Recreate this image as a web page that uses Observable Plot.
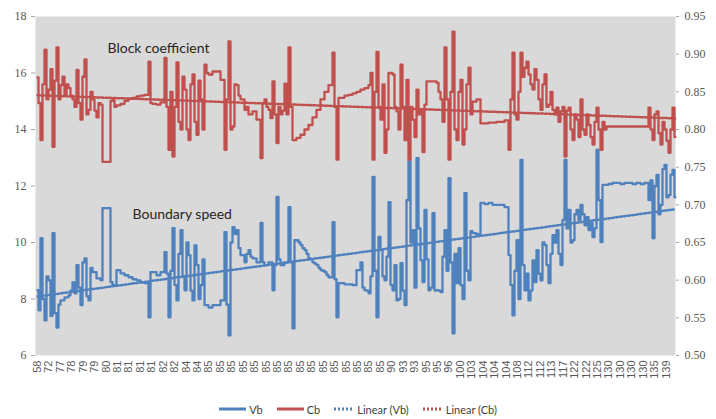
<!DOCTYPE html>
<html>
<head>
<meta charset="utf-8">
<script src="https://cdn.jsdelivr.net/npm/d3@7"></script>
<script src="https://cdn.jsdelivr.net/npm/@observablehq/plot@0.6"></script>
<style>
  html, body { margin: 0; padding: 0; background: #fff; }
  #wrap { width: 716px; }
  #legend { display: flex; justify-content: center; align-items: center; gap: 14px;
            font-family: Lato, "Open Sans", sans-serif; font-size: 11px; color: #404040;
            margin-top: 9px; height: 16px; }
  #legend .item { display: flex; align-items: center; gap: 3px; }
</style>
</head>
<body>
<div id="wrap">
  <div id="chart"></div>
  <div id="legend"></div>
</div>
<script>
// Category tick labels (every 20th category along the x axis)
const xLabels = ["58","72","77","78","79","79","80","81","81","81","81","82","82","84","84","85","85","85","85","85",
  "85","85","85","85","85","85","85","85","85","85","85",
  "90","93","93","95","95","96","100","103",
  "104","104","104","108","112","112","113","117","122","122","125","130","130","130","130","135","139"];

// Boundary speed Vb (left axis), read every 3.5 categories
const vb = [
  8.31,7.6, 10.15,8.0, 7.24,8.8, 8.66,7.4, 10.33,7.5, 6.99,7.8, 7.95,7.95, 8.06,8.06, 8.13,8.3, 8.59,8.2, 9.20,8.4, 7.78,9.3, 9.44,8.1, 7.95,9.1, 8.95,8.95, 8.73,8.73, 8.66,11.22, 11.22,11.22, 11.22,8.6, 8.49,8.49,
  9.02,9.02, 8.91,8.91, 8.84,8.84, 8.77,8.77, 8.70,8.70, 8.66,8.66, 8.59,8.59, 8.56,8.56, 7.35,8.95, 8.95,8.95, 8.84,8.84, 8.95,8.95, 9.66,8.9, 7.35,9.0, 10.51,8.5, 7.95,9.6, 10.44,8.8, 8.31,10.0, 9.55,8.3, 7.95,9.9,
  9.20,8.0, 8.49,9.4, 7.78,7.78, 7.70,7.70, 7.78,7.78, 7.78,7.78, 7.95,7.95, 10.37,7.8, 6.71,10.0, 10.54,10.3, 10.44,9.8, 9.55,9.55, 9.30,9.6, 9.73,9.5, 9.44,9.44, 9.30,9.30, 10.69,9.3, 9.20,9.20, 9.30,9.30, 8.31,9.2,
  11.61,9.4, 9.20,9.20, 9.30,9.30, 11.25,9.3, 6.96,10.08, 10.08,10.0, 9.91,9.8, 9.73,9.6, 9.44,9.4, 9.30,9.25, 9.20,9.1, 9.02,9.0, 8.95,8.85, 8.77,8.77, 10.72,8.7, 7.35,8.56, 8.56,8.56, 8.52,8.52, 8.52,8.52, 8.49,8.49,
  9.02,9.02, 9.30,8.4, 8.31,8.3, 8.20,8.8, 12.32,9.0, 7.35,10.2, 9.73,8.8, 8.66,9.5, 11.43,8.5, 8.31,9.2, 7.95,8.0, 9.27,8.3, 7.78,11.5, 12.92,10.0, 10.44,8.4, 12.99,10.5, 9.37,8.6, 11.15,9.4, 8.31,8.4, 11.04,8.3,
  8.31,8.3, 8.24,9.5, 10.44,9.0, 12.28,9.3, 6.78,9.6, 8.56,9.8, 8.49,8.0, 11.75,9.0, 8.66,10.4, 10.33,10.33, 10.26,10.3, 11.40,11.40, 11.36,11.36, 11.40,11.40, 11.33,11.33, 11.33,11.33, 11.33,11.33, 11.25,11.25, 9.55,8.5, 7.42,9.0,
  10.08,8.0, 12.92,9.2, 8.31,8.9, 7.95,8.3, 9.37,8.6, 9.73,8.9, 8.66,10.0, 9.91,9.2, 8.56,9.6, 10.26,10.0, 10.44,9.6, 9.20,10.8, 12.92,10.5, 11.15,10.0, 10.08,11.0, 11.15,10.8, 11.33,11.0, 10.61,10.9, 10.44,10.7, 10.19,10.5,
  13.28,11.5, 10.01,12.04, 12.04,12.04, 12.07,12.07, 12.11,12.11, 12.11,12.11, 12.07,12.07, 12.11,12.11, 12.11,12.11, 12.07,12.07, 12.11,12.11, 12.07,12.07, 12.11,12.11, 11.50,12.2, 10.15,12.0, 12.39,11.0, 11.33,12.6, 12.75,11.6, 11.68,12.4, 12.57,11.6
];

// Block coefficient Cb (right axis), read every 3.5 categories
const cb = [
  0.869,0.835, 0.786,0.860, 0.906,0.840, 0.853,0.880, 0.777,0.865, 0.909,0.840, 0.859,0.870, 0.846,0.860, 0.855,0.845, 0.840,0.830, 0.879,0.835, 0.813,0.870, 0.893,0.820, 0.826,0.850, 0.840,0.825, 0.816,0.835, 0.833,0.757, 0.757,0.757, 0.757,0.838, 0.840,0.830,
  0.832,0.832, 0.834,0.834, 0.838,0.838, 0.841,0.841, 0.842,0.842, 0.844,0.844, 0.845,0.845, 0.846,0.846, 0.890,0.835, 0.834,0.834, 0.833,0.833, 0.836,0.836, 0.895,0.830, 0.773,0.850, 0.764,0.830, 0.889,0.810, 0.800,0.870, 0.853,0.800, 0.786,0.860, 0.873,0.810,
  0.793,0.865, 0.840,0.800, 0.886,0.875, 0.873,0.873, 0.877,0.877, 0.877,0.877, 0.866,0.866, 0.773,0.840, 0.917,0.800, 0.804,0.860, 0.859,0.845, 0.840,0.840, 0.826,0.830, 0.820,0.820, 0.824,0.824, 0.813,0.813, 0.762,0.835, 0.840,0.830, 0.826,0.815, 0.864,0.820,
  0.782,0.830, 0.820,0.825, 0.861,0.820, 0.909,0.830, 0.786,0.786, 0.789,0.789, 0.793,0.793, 0.800,0.800, 0.806,0.806, 0.816,0.816, 0.826,0.826, 0.840,0.840, 0.850,0.850, 0.859,0.859, 0.902,0.830, 0.760,0.842, 0.842,0.842, 0.845,0.845, 0.846,0.846, 0.848,0.848,
  0.850,0.850, 0.853,0.853, 0.855,0.855, 0.859,0.875, 0.760,0.850, 0.903,0.830, 0.813,0.860, 0.769,0.800, 0.875,0.875, 0.873,0.830, 0.824,0.800, 0.886,0.830, 0.786,0.866, 0.760,0.830, 0.813,0.790, 0.853,0.820, 0.826,0.770, 0.833,0.864, 0.864,0.864, 0.864,0.864,
  0.862,0.850, 0.840,0.810, 0.909,0.840, 0.760,0.850, 0.930,0.800, 0.786,0.850, 0.866,0.780, 0.800,0.860, 0.882,0.820, 0.837,0.837, 0.840,0.840, 0.808,0.808, 0.808,0.808, 0.809,0.809, 0.809,0.809, 0.810,0.810, 0.810,0.810, 0.812,0.812, 0.773,0.840, 0.902,0.820,
  0.813,0.850, 0.902,0.870, 0.882,0.890, 0.873,0.860, 0.853,0.880, 0.866,0.840, 0.826,0.860, 0.873,0.830, 0.833,0.850, 0.826,0.820, 0.829,0.810, 0.824,0.830, 0.764,0.825, 0.829,0.800, 0.786,0.820, 0.813,0.790, 0.840,0.800, 0.793,0.820, 0.806,0.790, 0.780,0.810,
  0.829,0.800, 0.773,0.810, 0.800,0.804, 0.804,0.804, 0.804,0.804, 0.804,0.804, 0.804,0.804, 0.804,0.804, 0.804,0.804, 0.804,0.804, 0.804,0.804, 0.804,0.804, 0.804,0.804, 0.829,0.800, 0.786,0.820, 0.824,0.795, 0.780,0.810, 0.800,0.785, 0.769,0.800, 0.829,0.790
];

const leftTicks = [6, 8, 10, 12, 14, 16, 18];
const rightTicks = [0.50, 0.55, 0.60, 0.65, 0.70, 0.75, 0.80, 0.85, 0.90, 0.95];

const SAMPLE_STEP = 3.5; // categories between readings
const LABEL_STEP = 20;   // categories between labels
const BLUE = "#4f81bd", RED = "#c0504d";

// map Cb (0.50–0.95) onto the left scale (6–18)
const cbToLeft = c => 6 + (c - 0.5) / 0.45 * 12;
const leftToCb = v => 0.5 + (v - 6) / 12 * 0.45;

const rows = vb.map((v, i) => ({idx: i * SAMPLE_STEP, vb: v, cb: cbToLeft(cb[i])}));
const tickIdx = xLabels.map((_, k) => k * LABEL_STEP);

const chart = Plot.plot({
  width: 716,
  height: 392,
  marginTop: 16,
  marginBottom: 37,
  marginLeft: 35,
  marginRight: 41,
  x: {domain: [-3.5, 1116.5]},
  y: {domain: [6, 18]},
  marks: [
    Plot.frame({fill: "#d9d9d9", stroke: null}),
    Plot.axisY(leftTicks, {anchor: "left", tickSize: 4, tickPadding: 5, stroke: "#a6a6a6",
      fill: "#595959", fontFamily: "Liberation Serif", fontSize: 12, label: null}),
    Plot.axisY(rightTicks.map(cbToLeft), {anchor: "right", tickSize: 3, tickPadding: 6, stroke: "#a6a6a6",
      fill: "#595959", fontFamily: "Liberation Serif", fontSize: 12, label: null,
      tickFormat: v => leftToCb(v).toFixed(2)}),
    Plot.axisX(tickIdx, {anchor: "bottom", tickSize: 0, tickPadding: 5, tickRotate: -90,
      fill: "#595959", fontFamily: "Liberation Sans", fontSize: 11, label: null,
      tickFormat: i => xLabels[Math.round(i / LABEL_STEP)]}),
    Plot.line(rows, {x: "idx", y: "vb", stroke: BLUE, strokeWidth: 2.3, curve: "step", strokeLinejoin: "round"}),
    Plot.line(rows, {x: "idx", y: "cb", stroke: RED, strokeWidth: 2.3, curve: "step", strokeLinejoin: "round"}),
    Plot.linearRegressionY(rows, {x: "idx", y: "vb", stroke: BLUE, strokeWidth: 2.5, ci: 0, strokeDasharray: "2,2"}),
    Plot.linearRegressionY(rows, {x: "idx", y: "cb", stroke: RED, strokeWidth: 2.5, ci: 0, strokeDasharray: "2,2"}),
    Plot.text(["Block coefficient"], {frameAnchor: "top-left", dx: 72, dy: 27, textAnchor: "start",
      fontFamily: "Lato", fontSize: 14, fill: "#262626"}),
    Plot.text(["Boundary speed"], {frameAnchor: "top-left", dx: 97, dy: 193, textAnchor: "start",
      fontFamily: "Lato", fontSize: 14, fill: "#262626"})
  ]
});
d3.select(chart).selectAll('g[aria-label="y-axis tick label"]')
  .attr("font-family", "Liberation Serif")
  .selectAll("text").style("font-family", "'Liberation Serif', serif");
document.getElementById("chart").appendChild(chart);

// Legend
const legendItems = [
  {name: "Vb", color: BLUE, dash: null, w: 27},
  {name: "Cb", color: RED, dash: null, w: 27},
  {name: "Linear (Vb)", color: BLUE, dash: "2,2", w: 20},
  {name: "Linear (Cb)", color: RED, dash: "2,2", w: 20}
];
const legend = d3.select("#legend");
for (const it of legendItems) {
  const item = legend.append("div").attr("class", "item");
  const s = item.append("svg").attr("width", it.w).attr("height", 6);
  s.append("line").attr("x1", 0).attr("x2", it.w).attr("y1", 3).attr("y2", 3)
    .attr("stroke", it.color).attr("stroke-width", 3)
    .attr("stroke-dasharray", it.dash);
  item.append("span").text(it.name);
}
</script>
</body>
</html>
